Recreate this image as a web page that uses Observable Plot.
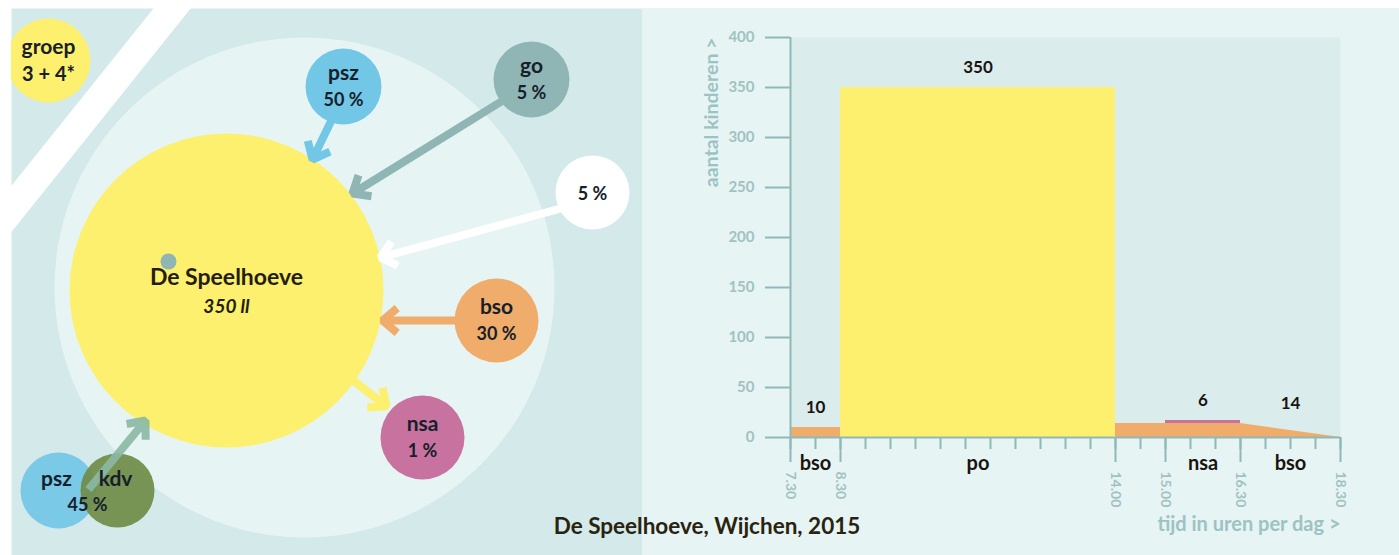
<!DOCTYPE html>
<html>
<head>
<meta charset="utf-8">
<script src="https://cdn.jsdelivr.net/npm/d3@7"></script>
<script src="https://cdn.jsdelivr.net/npm/@observablehq/plot@0.6"></script>
<style>
  html, body { margin: 0; padding: 0; background: #ffffff; }
  body { width: 1399px; height: 555px; position: relative; overflow: hidden; font-family: Lato, "Open Sans", sans-serif; }
  #left { position: absolute; left: 0; top: 0; }
  #right { position: absolute; left: 642px; top: 8px; }
  #title { position: absolute; left: 457px; width: 500px; top: 511px; text-align: center;
           font-size: 22.5px; font-weight: 700; color: #29230f; line-height: 30px; }
</style>
</head>
<body>
<div id="left"></div>
<div id="right"></div>
<div id="title">De Speelhoeve, Wijchen, 2015</div>
<script>
// ---------- Left diagram: feeder circles ----------
const circleNames = ["groep", "psz", "go", "", "bso", "nsa"];
const circleShares = ["3 + 4*", "50 %", "5 %", "5 %", "30 %", "1 %"];
const circleColors = ["#fdf06e", "#72c6e6", "#8fb5b5", "#ffffff", "#f0ac6a", "#c8739f"];
const circleX = [48, 343, 531, 592, 496, 422];
const circleY = [60, 86, 79, 192, 320, 437];
const circleR = [42, 38, 38, 37, 42, 42];

const pairLabels = ["psz", "kdv"];
const pairShare = "45 %";
const pairColors = ["#72c6e6", "#6f8c46"];
const pairX = [58, 117];
const pairY = [490, 490];
const pairR = [38, 37];

const schoolName = "De Speelhoeve";
const schoolPupils = "350 ll";
const schoolX = 226, schoolY = 290, schoolR = 157;
const zoneX = 304, zoneY = 287, zoneR = 250;

// arrows: start, tip, colour
const arrowX1 = [342, 525, 586, 490, 340];
const arrowY1 = [97, 86, 201, 320, 370];
const arrowX2 = [312, 352, 380, 382, 386];
const arrowY2 = [159, 193, 257, 320, 406];
const arrowColors = ["#72c6e6", "#8fb5b5", "#ffffff", "#f0ac6a", "#fdf06e"];
const kdvArrow = {x1: 88, y1: 489, x2: 145, y2: 420};

const stripeX = [178, 0];
const stripeY = [0, 222];

// ---------- Right chart: kinderen per tijdstip ----------
const segments = ["bso", "po", "nsa", "bso"];
const segStart = [7.5, 8.5, 15, 16.5];
const segEnd = [8.5, 14, 16.5, 18.5];
const segCounts = ["10", "350", "6", "14"];
const labelHeights = [10, 350, 17, 14];

const barStart = [7.5, 8.5];
const barEnd = [8.5, 14];
const barCounts = [10, 350];
const barColors = ["#f0ac6a", "#fdf06e"];

const afternoonTimes = [14, 16.5, 18.5];
const afternoonCounts = [14, 14, 0];

const nsaStart = 15, nsaEnd = 16.5, nsaLow = 14, nsaHigh = 17;

const yTicks = [0, 50, 100, 150, 200, 250, 300, 350, 400];
const timeTicks = [7.5, 8.5, 14, 15, 16.5, 18.5];
const timeLabels = ["7.30", "8.30", "14.00", "15.00", "16.30", "18.30"];

const yTitle = "aantal kinderen >";
const xTitle = "tijd in uren per dag >";

// ---------- build tables ----------
const circles = circleNames.map((t, i) => ({name: t, share: circleShares[i], fill: circleColors[i], x: circleX[i], y: circleY[i], r: circleR[i]}));
const pair = pairLabels.map((t, i) => ({text: t, fill: pairColors[i], x: pairX[i], y: pairY[i], r: pairR[i]}));
const arrows = arrowX1.map((d, i) => ({x1: d, y1: arrowY1[i], x2: arrowX2[i], y2: arrowY2[i], stroke: arrowColors[i]}));
const stripe = stripeX.map((d, i) => ({x: d, y: stripeY[i]}));

const font = "Lato, 'Open Sans', sans-serif";
const ink = "#16202a";
const arrowOpts = {strokeWidth: 8, headLength: 3.6, headAngle: 80, strokeLinejoin: "miter", strokeLinecap: "butt"};

const left = Plot.plot({
  width: 642, height: 555,
  marginLeft: 11, marginTop: 8, marginRight: 0, marginBottom: 0,
  x: {domain: [11, 642], axis: null},
  y: {domain: [555, 8], axis: null},
  r: {type: "identity"},
  color: {type: "identity"},
  style: {background: "#ffffff", fontFamily: font},
  marks: [
    Plot.frame({fill: "#d3e9ea", stroke: "none"}),
    Plot.line(stripe, {x: "x", y: "y", stroke: "#ffffff", strokeWidth: 29, clip: "frame"}),
    Plot.dot([{x: zoneX, y: zoneY, r: zoneR}], {x: "x", y: "y", r: "r", fill: "#e7f4f4", stroke: "none"}),
    Plot.dot([{x: schoolX, y: schoolY, r: schoolR}], {x: "x", y: "y", r: "r", fill: "#fdf06e", stroke: "none"}),
    Plot.dot([{x: 168, y: 261, r: 8}], {x: "x", y: "y", r: "r", fill: "#8fb5b5", stroke: "none"}),
    Plot.arrow(arrows, {x1: "x1", y1: "y1", x2: "x2", y2: "y2", stroke: "stroke", ...arrowOpts}),
    Plot.dot(circles, {x: "x", y: "y", r: "r", fill: "fill", stroke: "none", clip: "frame"}),
    Plot.dot(pair, {x: "x", y: "y", r: "r", fill: "fill", stroke: "none", fillOpacity: 0.92}),
    Plot.arrow([kdvArrow], {x1: "x1", y1: "y1", x2: "x2", y2: "y2", stroke: "#8ab8a4", strokeOpacity: 0.9, ...arrowOpts}),
    Plot.text(circles, {x: "x", y: (d) => d.y - 13, text: "name", fontSize: 21, fontWeight: 700, fill: ink}),
    Plot.text(circles, {x: "x", y: (d) => d.name ? d.y + 14 : d.y + 2, text: "share",
      fontSize: (d) => d.name === "groep" ? 20 : 18, fontWeight: 700, fill: ink}),
    Plot.text(pair, {x: (d) => d.x - 2, y: (d) => d.y - 11, text: "text", fontSize: 21, fontWeight: 700, fill: ink}),
    Plot.text([pairShare], {x: 87, y: 505, text: (d) => d, fontSize: 18, fontWeight: 700, fill: ink}),
    Plot.text([schoolName], {x: schoolX, y: 277, text: (d) => d, fontSize: 23, fontWeight: 700, fill: "#241f0c"}),
    Plot.text([schoolPupils], {x: schoolX, y: 306, text: (d) => d, fontSize: 19, fontWeight: 700, fontStyle: "italic", fill: "#241f0c"})
  ]
});
document.getElementById("left").appendChild(left);

// right chart
const bars = barStart.map((d, i) => ({start: d, end: barEnd[i], count: barCounts[i], fill: barColors[i]}));
const afternoon = afternoonTimes.map((d, i) => ({t: d, v: afternoonCounts[i]}));
const labels = segments.map((d, i) => ({name: d, mid: (segStart[i] + segEnd[i]) / 2, count: segCounts[i], h: labelHeights[i]}));

const axisColor = "#8fb8b8";
const tickText = "#a0c2c2";

const right = Plot.plot({
  width: 757, height: 547,
  marginLeft: 148, marginRight: 59, marginTop: 29, marginBottom: 118,
  x: {domain: [7.5, 18.5]},
  y: {domain: [0, 400]},
  color: {type: "identity"},
  style: {background: "#e7f4f4", fontFamily: font},
  marks: [
    Plot.frame({fill: "#dbecec", stroke: "none"}),
    Plot.rectY(bars, {x1: "start", x2: "end", y: "count", fill: "fill"}),
    Plot.areaY(afternoon, {x: "t", y: "v", fill: "#f0ac6a"}),
    Plot.rect([{x1: nsaStart, x2: nsaEnd, y1: nsaLow, y2: nsaHigh}], {x1: "x1", x2: "x2", y1: "y1", y2: "y2", fill: "#c8739f"}),
    Plot.axisY({ticks: yTicks, tickSize: 25, tickPadding: 11, stroke: axisColor, strokeWidth: 2,
      fill: tickText, fontSize: 15, fontWeight: 700, label: null}),
    Plot.axisX({interval: 0.5, tickSize: 12, stroke: axisColor, strokeWidth: 2, fill: "none", label: null}),
    Plot.axisX({ticks: timeTicks, tickSize: 25, tickPadding: 9, tickRotate: 90, stroke: axisColor, strokeWidth: 2,
      fill: tickText, fontSize: 14, fontWeight: 700, label: null,
      tickFormat: (d) => timeLabels[timeTicks.indexOf(d)]}),
    Plot.ruleX([7.5], {stroke: axisColor, strokeWidth: 2}),
    Plot.ruleY([0], {stroke: axisColor, strokeWidth: 2}),
    Plot.text(labels, {x: "mid", y: "h", text: "count", dy: -20, fontSize: 17, fontWeight: 700, fill: "#1a1410"}),
    Plot.text(labels, {x: "mid", y: 0, text: "name", dy: 26, fontSize: 20, fontWeight: 700, fill: "#1a1410"}),
    Plot.text([yTitle], {frameAnchor: "top-left", text: (d) => d, rotate: -90, textAnchor: "end", dx: -86,
      fontSize: 19.5, fontWeight: 700, fill: "#9cc3c3"}),
    Plot.text([xTitle], {frameAnchor: "bottom-right", text: (d) => d, textAnchor: "end", dy: 93,
      fontSize: 20, fontWeight: 700, fill: "#9cc3c3"})
  ]
});
document.getElementById("right").appendChild(right);
</script>
</body>
</html>
